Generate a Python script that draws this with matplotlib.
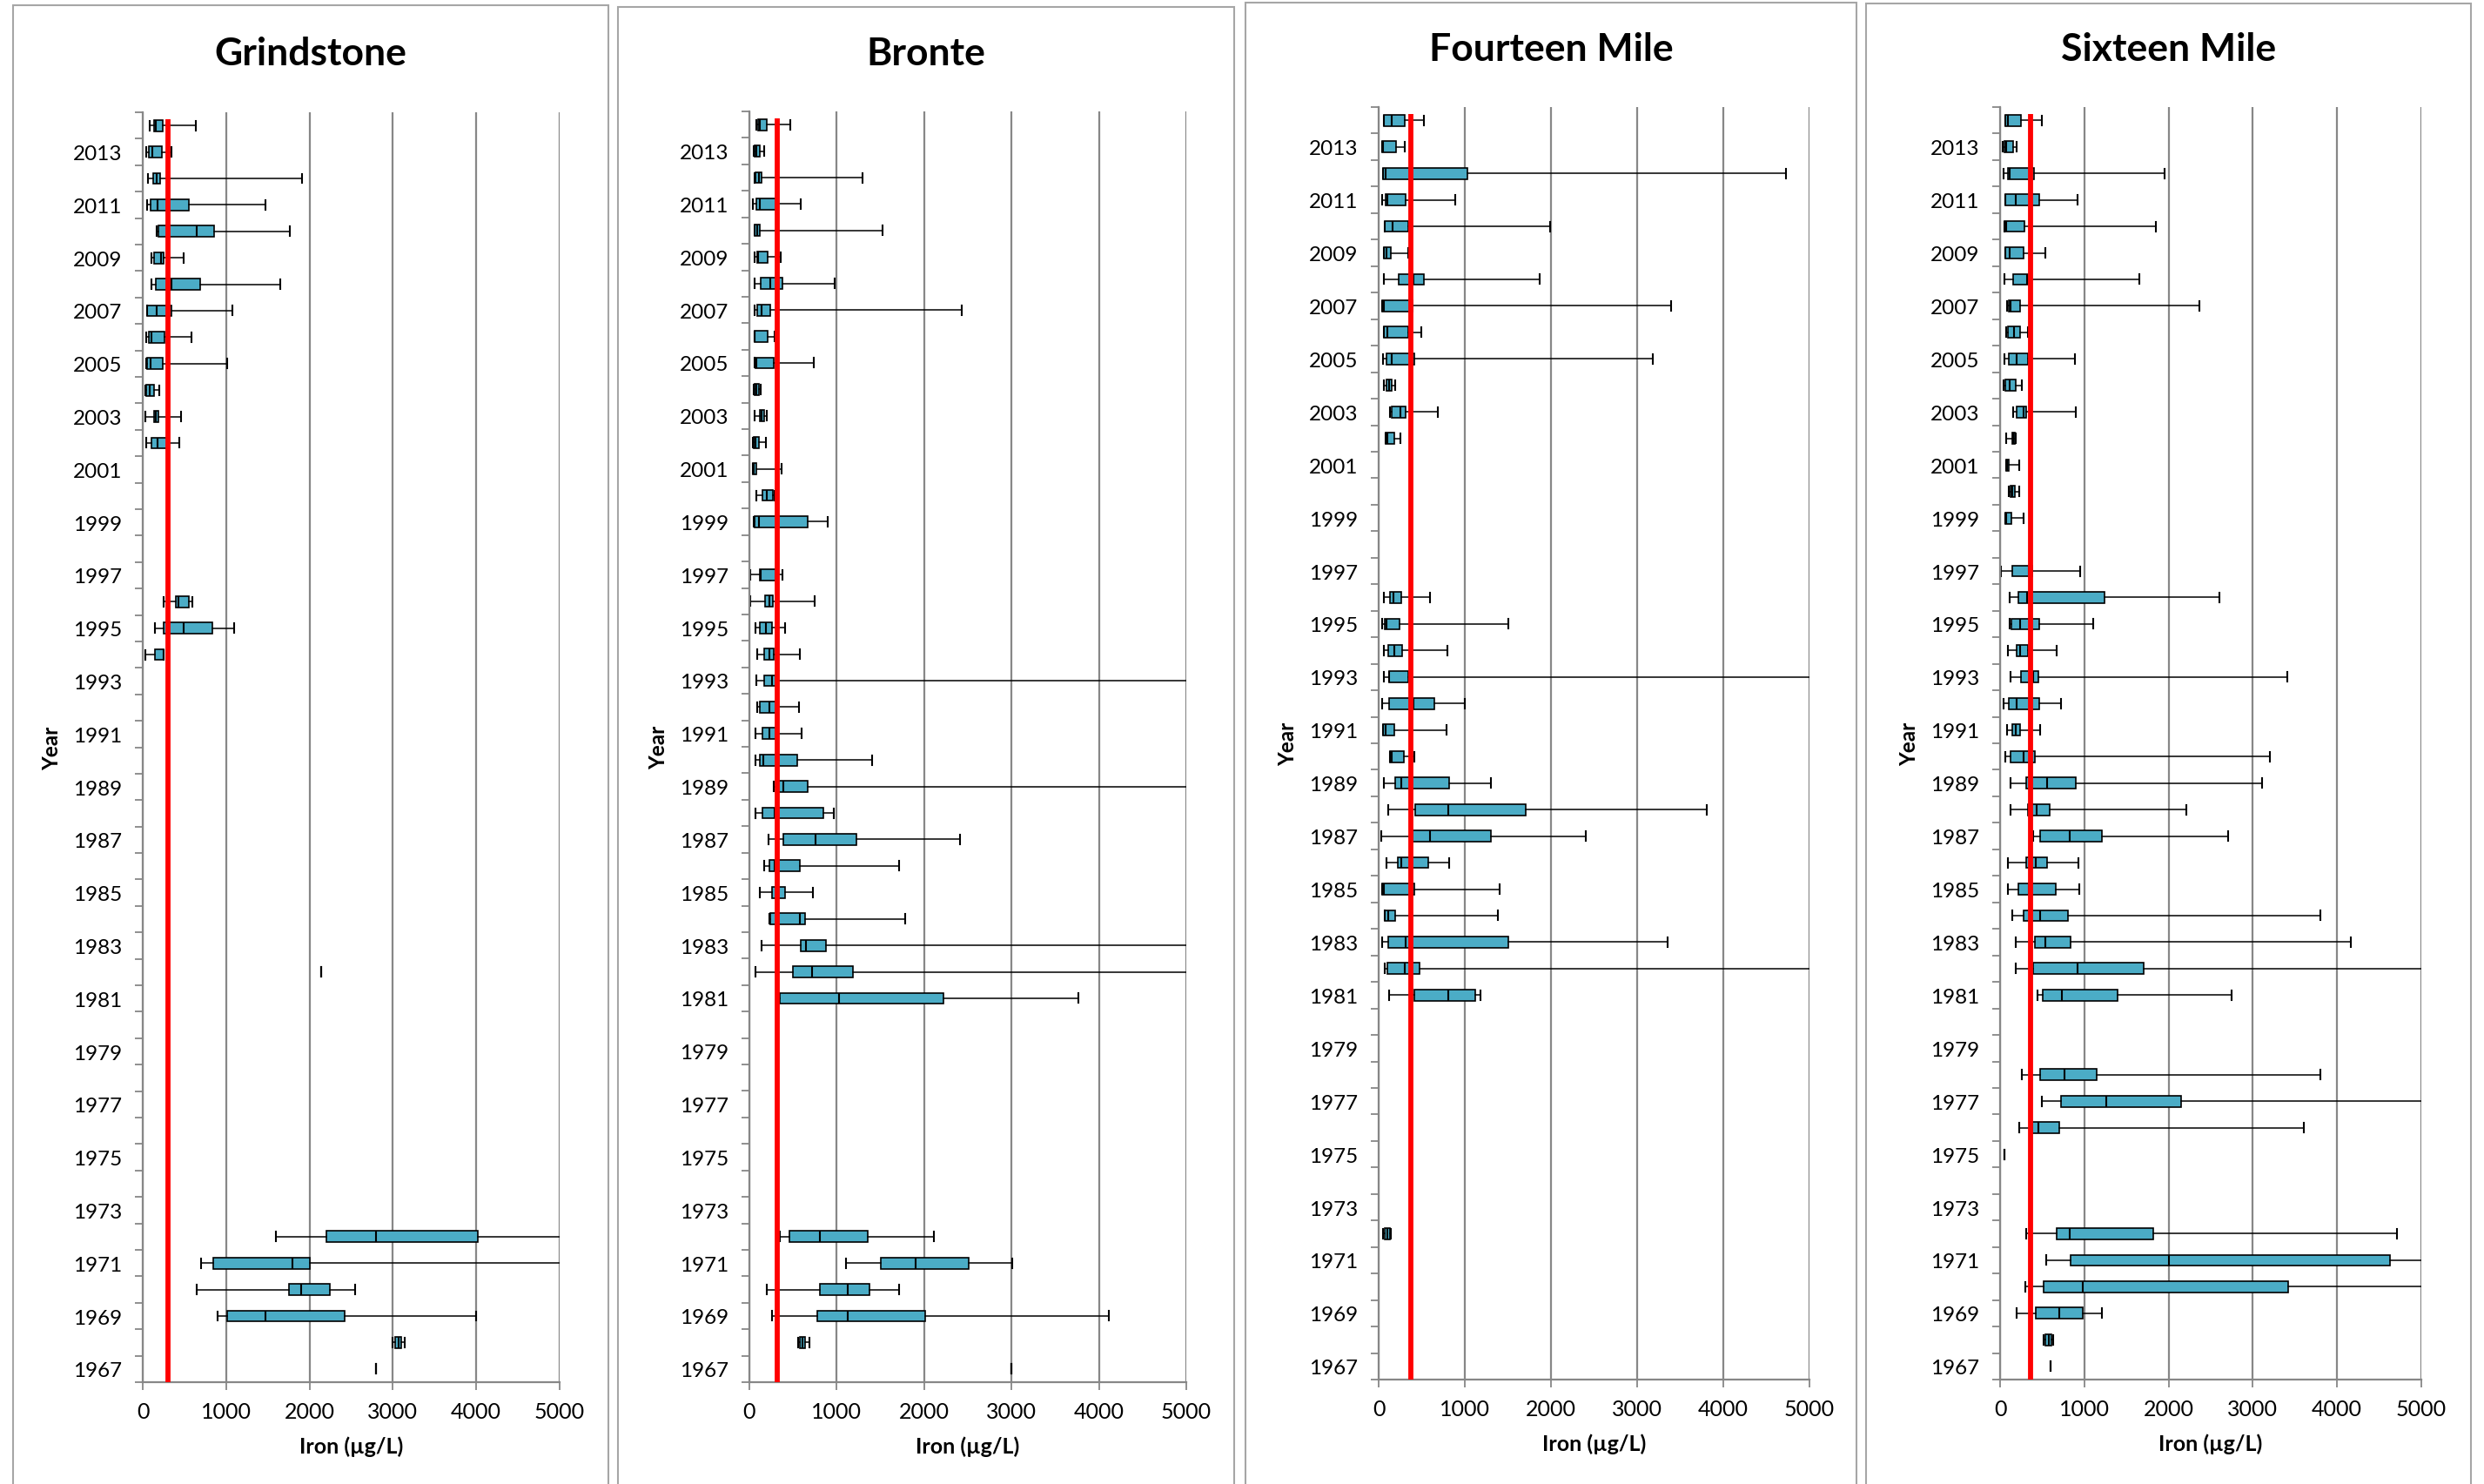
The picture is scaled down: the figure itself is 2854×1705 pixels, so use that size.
"""
Iron concentrations by year for four creeks, drawn as horizontal box plots.
"""

import numpy as np
import matplotlib.pyplot as plt
from matplotlib.patches import Rectangle

plt.rcParams['font.family'] = ['Lato', 'DejaVu Sans']

W, H = 2854, 1706
OVER = 6000  # whisker runs past the 5000 axis limit

rivers = ["Grindstone", "Bronte", "Fourteen Mile", "Sixteen Mile"]
guideline = [300, 320, 370, 360]

# Grindstone
grind_years = [2014, 2013, 2012, 2011, 2010, 2009, 2008, 2007, 2006, 2005, 2004, 2003, 2002,
               1996, 1995, 1994, 1982, 1972, 1971, 1970, 1969, 1968, 1967]
grind_min = [85, 42, 61, 52, 170, 104, 108, 52, 42, 42, 33, 28, 38,
             255, 146, 33, 2140, 1594, 698, 642, 896, 2995, 2800]
grind_q1 = [137, 71, 127, 90, 193, 137, 160, 52, 75, 52, 38, 137, 104,
            396, 250, 142, 2140, 2198, 844, 1750, 1014, 3028, 2800]
grind_med = [160, 113, 165, 175, 646, 217, 344, 170, 108, 94, 85, 160, 179,
             425, 486, 250, 2140, 2797, 1792, 1896, 1467, 3071, 2800]
grind_q3 = [245, 226, 212, 552, 858, 255, 684, 340, 259, 241, 137, 189, 316,
            552, 830, 255, 2140, 4019, 2000, 2245, 2425, 3104, 2800]
grind_max = [637, 344, 1915, 1467, 1769, 495, 1646, 1071, 580, 1009, 203, 462, 439,
             590, 1099, 255, 2140, OVER, OVER, 2547, 4000, 3146, 2800]

# Bronte
bronte_years = [2014, 2013, 2012, 2011, 2010, 2009, 2008, 2007, 2006, 2005, 2004, 2003, 2002, 2001, 2000, 1999,
                1997, 1996, 1995, 1994, 1993, 1992, 1991, 1990, 1989, 1988, 1987, 1986, 1985, 1984, 1983, 1982, 1981,
                1972, 1971, 1970, 1969, 1968, 1967]
bronte_min = [78, 46, 60, 41, 60, 60, 55, 55, 55, 55, 50, 55, 37, 37, 83, 50,
              9, 9, 69, 87, 83, 92, 73, 73, 275, 73, 216, 165, 115, 234, 138, 69, 340,
              353, 1101, 202, 257, 555, 3000]
bronte_q1 = [100, 55, 69, 83, 64, 87, 133, 87, 60, 69, 60, 115, 46, 41, 151, 55,
             119, 183, 119, 165, 165, 124, 151, 115, 321, 151, 390, 229, 261, 243, 583, 500, 353,
             463, 1505, 803, 780, 575, 3000]
bronte_med = [124, 78, 105, 115, 92, 101, 243, 138, 64, 83, 83, 138, 69, 50, 202, 105,
              125, 225, 193, 234, 257, 225, 234, 160, 390, 289, 752, 290, 310, 578, 651, 720, 1028,
              803, 1904, 1128, 1128, 610, 3000]
bronte_q3 = [197, 115, 142, 298, 119, 206, 381, 243, 206, 275, 110, 165, 105, 83, 266, 665,
             303, 271, 257, 275, 298, 298, 298, 546, 665, 844, 1229, 573, 408, 638, 872, 1188, 2225,
             1358, 2509, 1372, 2014, 638, 3000]
bronte_max = [472, 170, 1294, 583, 1523, 358, 972, 2427, 289, 739, 128, 202, 193, 367, 284, 899,
              381, 748, 404, 578, OVER, 564, 596, 1408, OVER, 963, 2408, 1711, 725, 1784, OVER, OVER, 3761,
              2110, 3009, 1711, 4110, 683, 3000]

# Fourteen Mile
fourteen_years = [2014, 2013, 2012, 2011, 2010, 2009, 2008, 2007, 2006, 2005, 2004, 2003, 2002,
                  1996, 1995, 1994, 1993, 1992, 1991, 1990, 1989, 1988, 1987, 1986, 1985, 1984, 1983, 1982, 1981,
                  1972]
fourteen_min = [56, 42, 51, 37, 74, 56, 65, 37, 65, 51, 60, 135, 79,
                56, 37, 56, 60, 37, 51, 130, 60, 107, 33, 88, 42, 74, 37, 74, 121,
                51]
fourteen_q1 = [56, 42, 55, 79, 74, 56, 228, 37, 65, 88, 93, 153, 79,
               135, 70, 112, 121, 121, 51, 130, 195, 428, 395, 219, 42, 74, 112, 102, 419,
               70]
fourteen_med = [149, 50, 79, 102, 158, 88, 409, 65, 102, 153, 121, 256, 100,
                172, 93, 177, 125, 409, 79, 150, 260, 809, 591, 260, 65, 116, 316, 298, 809,
                102]
fourteen_q3 = [298, 200, 1033, 312, 340, 140, 521, 395, 344, 419, 149, 316, 177,
               260, 242, 270, 340, 642, 181, 293, 814, 1707, 1307, 577, 419, 195, 1507, 479, 1121,
               130]
fourteen_max = [526, 307, 4726, 884, 1986, 340, 1865, 3391, 493, 3181, 195, 684, 251,
                600, 1502, 800, OVER, 1005, 791, 414, 1307, 3809, 2409, 819, 1400, 1381, 3358, OVER, 1181,
                144]

# Sixteen Mile
sixteen_years = [2014, 2013, 2012, 2011, 2010, 2009, 2008, 2007, 2006, 2005, 2004, 2003, 2002, 2001, 2000, 1999,
                 1997, 1996, 1995, 1994, 1993, 1992, 1991, 1990, 1989, 1988, 1987, 1986, 1985, 1984, 1983, 1982, 1981,
                 1978, 1977, 1976, 1975, 1972, 1971, 1970, 1969, 1968, 1967]
sixteen_min = [60, 33, 42, 60, 51, 60, 47, 79, 74, 47, 37, 153, 74, 70, 107, 60,
               14, 116, 116, 98, 126, 42, 79, 60, 121, 121, 395, 98, 98, 149, 181, 181, 447,
               260, 498, 228, 56, 307, 544, 302, 200, 521, 600]
sixteen_q1 = [60, 47, 88, 60, 51, 60, 158, 107, 88, 102, 65, 200, 140, 70, 121, 60,
              149, 219, 130, 200, 251, 102, 149, 126, 312, 330, 479, 312, 219, 274, 414, 391, 502,
              479, 726, 386, 56, 670, 833, 521, 423, 540, 600]
sixteen_med = [88, 70, 112, 191, 74, 116, 316, 126, 163, 195, 116, 279, 150, 80, 149, 70,
               340, 321, 242, 237, 395, 200, 191, 284, 563, 433, 823, 423, 340, 474, 535, 916, 730,
               767, 1260, 451, 56, 828, 2005, 977, 702, 577, 600]
sixteen_q3 = [247, 158, 400, 465, 288, 274, 335, 242, 233, 335, 186, 312, 180, 102, 177, 130,
              386, 1237, 460, 335, 456, 470, 233, 409, 902, 586, 1205, 563, 656, 809, 833, 1702, 1395,
              1149, 2153, 698, 56, 1819, 4633, 3423, 977, 610, 600]
sixteen_max = [498, 200, 1953, 921, 1851, 535, 1651, 2363, 335, 884, 260, 898, 185, 223, 223, 274,
               953, 2605, 1102, 670, 3405, 726, 479, 3205, 3107, 2209, 2702, 930, 944, 3805, 4163, OVER, 2744,
               3805, OVER, 3605, 56, 4707, OVER, OVER, 1205, 628, 600]

series = [
    (grind_years, grind_min, grind_q1, grind_med, grind_q3, grind_max),
    (bronte_years, bronte_min, bronte_q1, bronte_med, bronte_q3, bronte_max),
    (fourteen_years, fourteen_min, fourteen_q1, fourteen_med, fourteen_q3, fourteen_max),
    (sixteen_years, sixteen_min, sixteen_q1, sixteen_med, sixteen_q3, sixteen_max),
]

# layout in pixels: (frame left, frame right, frame top, axes left, axes right, axes top, axes bottom, title y)
layout = [
    (15, 699, 7, 164, 643, 130, 1589, 62),
    (710, 1418, 9, 861, 1363, 129, 1589, 62),
    (1431, 2133, 4, 1584, 2079, 124, 1586, 57),
    (2144, 2839, 5, 2298, 2782, 124, 1586, 57),
]

GRID = '#878787'
BOX = '#4bacc6'

fig = plt.figure(figsize=(W / 100, H / 100), dpi=100)

for name, guide, data, lay in zip(rivers, guideline, series, layout):
    fl, fr, ft, al, ar, at, ab, ty = lay
    years, lo, q1, med, q3, hi = data

    fig.add_artist(Rectangle((fl / W, -0.02), (fr - fl) / W, (H - ft) / H + 0.02,
                             transform=fig.transFigure, fill=False,
                             edgecolor='#a6a6a6', linewidth=1.5))

    ax = fig.add_axes([al / W, 1 - ab / H, (ar - al) / W, (ab - at) / H])

    stats = [dict(med=m, q1=a, q3=b, whislo=l, whishi=h, fliers=[])
             for l, a, m, b, h in zip(lo, q1, med, q3, hi)]
    ax.bxp(stats, positions=years, widths=0.42, capwidths=0.36,
           orientation='horizontal', patch_artist=True, showfliers=False,
           manage_ticks=False,
           boxprops=dict(facecolor=BOX, edgecolor='black', linewidth=1.2),
           medianprops=dict(color='black', linewidth=1.5),
           whiskerprops=dict(color='black', linewidth=1.1),
           capprops=dict(color='black', linewidth=1.5))

    ax.plot([guide, guide], [1966.5, 2014.25], color='red', linewidth=4.2,
            solid_capstyle='butt', zorder=6)

    ax.set_xlim(0, 5000)
    ax.set_ylim(1966.5, 2014.5)

    ax.set_xticks(np.arange(0, 5001, 1000))
    ax.xaxis.grid(True, color=GRID, linewidth=1.6)
    ax.set_axisbelow(True)

    ax.set_yticks(np.arange(1966.5, 2015, 1.0))
    ax.set_yticklabels([])
    ax.set_yticks(np.arange(1967, 2015, 2), minor=True)
    ax.set_yticklabels([str(y) for y in range(1967, 2015, 2)], minor=True)
    ax.tick_params(axis='y', which='minor', length=0, pad=17, labelsize=17.5)
    ax.tick_params(axis='y', which='major', length=6.5, width=1.3, color=GRID, direction='out')
    ax.tick_params(axis='x', length=6.5, width=1.3, color=GRID, direction='out', pad=9, labelsize=18)

    for side in ('top', 'right'):
        ax.spines[side].set_visible(False)
    for side in ('left', 'bottom'):
        ax.spines[side].set_color(GRID)
        ax.spines[side].set_linewidth(1.6)

    fig.text((fl + fr) / 2 / W, 1 - ty / H, name, ha='center', va='center',
             fontsize=32, fontweight='bold')
    fig.text((al + ar) / 2 / W, 1 - (ab + 73) / H, "Iron (µg/L)", ha='center', va='center',
             fontsize=18, fontweight='bold')
    fig.text((al - 104) / W, 1 - (at + ab) / 2 / H, "Year", ha='center', va='center',
             rotation=90, fontsize=17.5, fontweight='bold')

fig.savefig("out.png", dpi=100)
